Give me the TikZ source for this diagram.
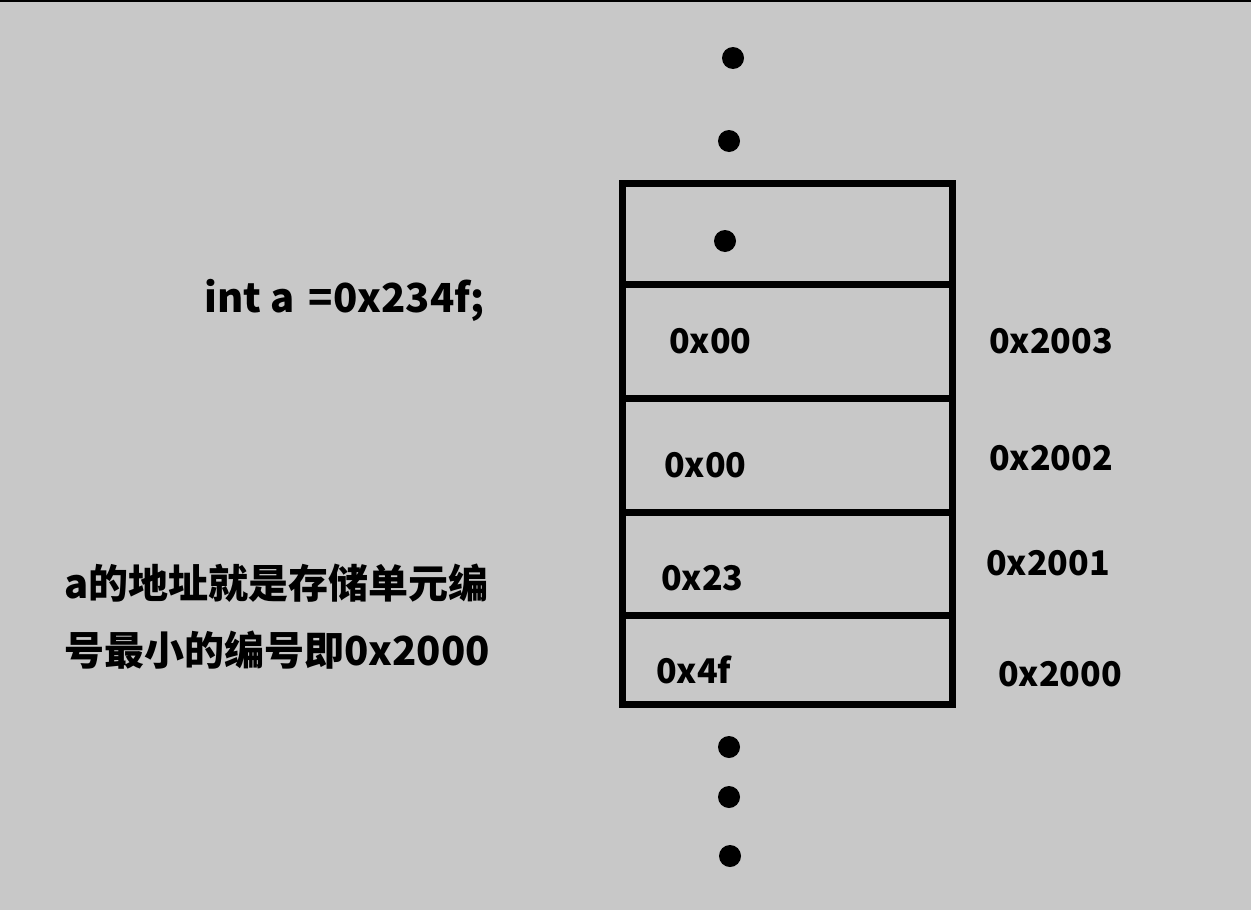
\documentclass[tikz,border=0pt]{standalone}
\usepackage{fontspec}
\newfontfamily\cjk{Noto Sans CJK SC}
\definecolor{bg}{RGB}{200,200,200}
\tikzset{
  cell/.style={draw=black,line width=7pt,fill=none},
  dot/.style={circle,fill=black,inner sep=0pt,minimum size=22pt},
  lbl/.style={anchor=west,inner sep=0pt,font=\cjk\bfseries\fontsize{34}{40}\selectfont},
  codefont/.style={anchor=west,inner sep=0pt,font=\cjk\bfseries\fontsize{40}{46}\selectfont},
  big/.style={anchor=west,inner sep=0pt,font=\cjk\bfseries\fontsize{40}{46}\selectfont}
}
\begin{document}
\begin{tikzpicture}[x=1pt,y=-1pt]
\fill[bg] (0,0) rectangle (1251,910);
\useasboundingbox (0,0) rectangle (1251,910);
\draw[line width=3pt] (0,0.5) -- (1251,0.5);
% memory cells
\draw[cell] (622,183) rectangle (952,704);
\draw[cell] (622,284) -- (952,284);
\draw[cell] (622,398) -- (952,398);
\draw[cell] (622,512) -- (952,512);
\draw[cell] (622,615) -- (952,615);
% dots
\node[dot] (d1) at (733,58) {};
\node[dot] (d2) at (729,141) {};
\node[dot] (d3) at (725,241) {};
\node[dot] (d4) at (729,747) {};
\node[dot] (d5) at (729,797) {};
\node[dot] (d6) at (730,856) {};
% cell values
\node[lbl] (v3) at (669,341) {0x00};
\node[lbl] (v2) at (664,465) {0x00};
\node[lbl] (v1) at (661,578) {0x23};
\node[lbl] (v0) at (656,670) {0x4f};
% addresses
\node[lbl] (a3) at (989,341) {0x2003};
\node[lbl] (a2) at (989,458) {0x2002};
\node[lbl] (a1) at (986,563) {0x2001};
\node[lbl] (a0) at (998,674) {0x2000};
% left texts
\node[codefont] (code) at (204,300) {int a\hspace*{5pt} =0x234f;};
\node[big] (t1) at (64,583) {a的地址就是存储单元编};
\node[big] (t2) at (64,650) {号最小的编号即0x2000};
\end{tikzpicture}
\end{document}
